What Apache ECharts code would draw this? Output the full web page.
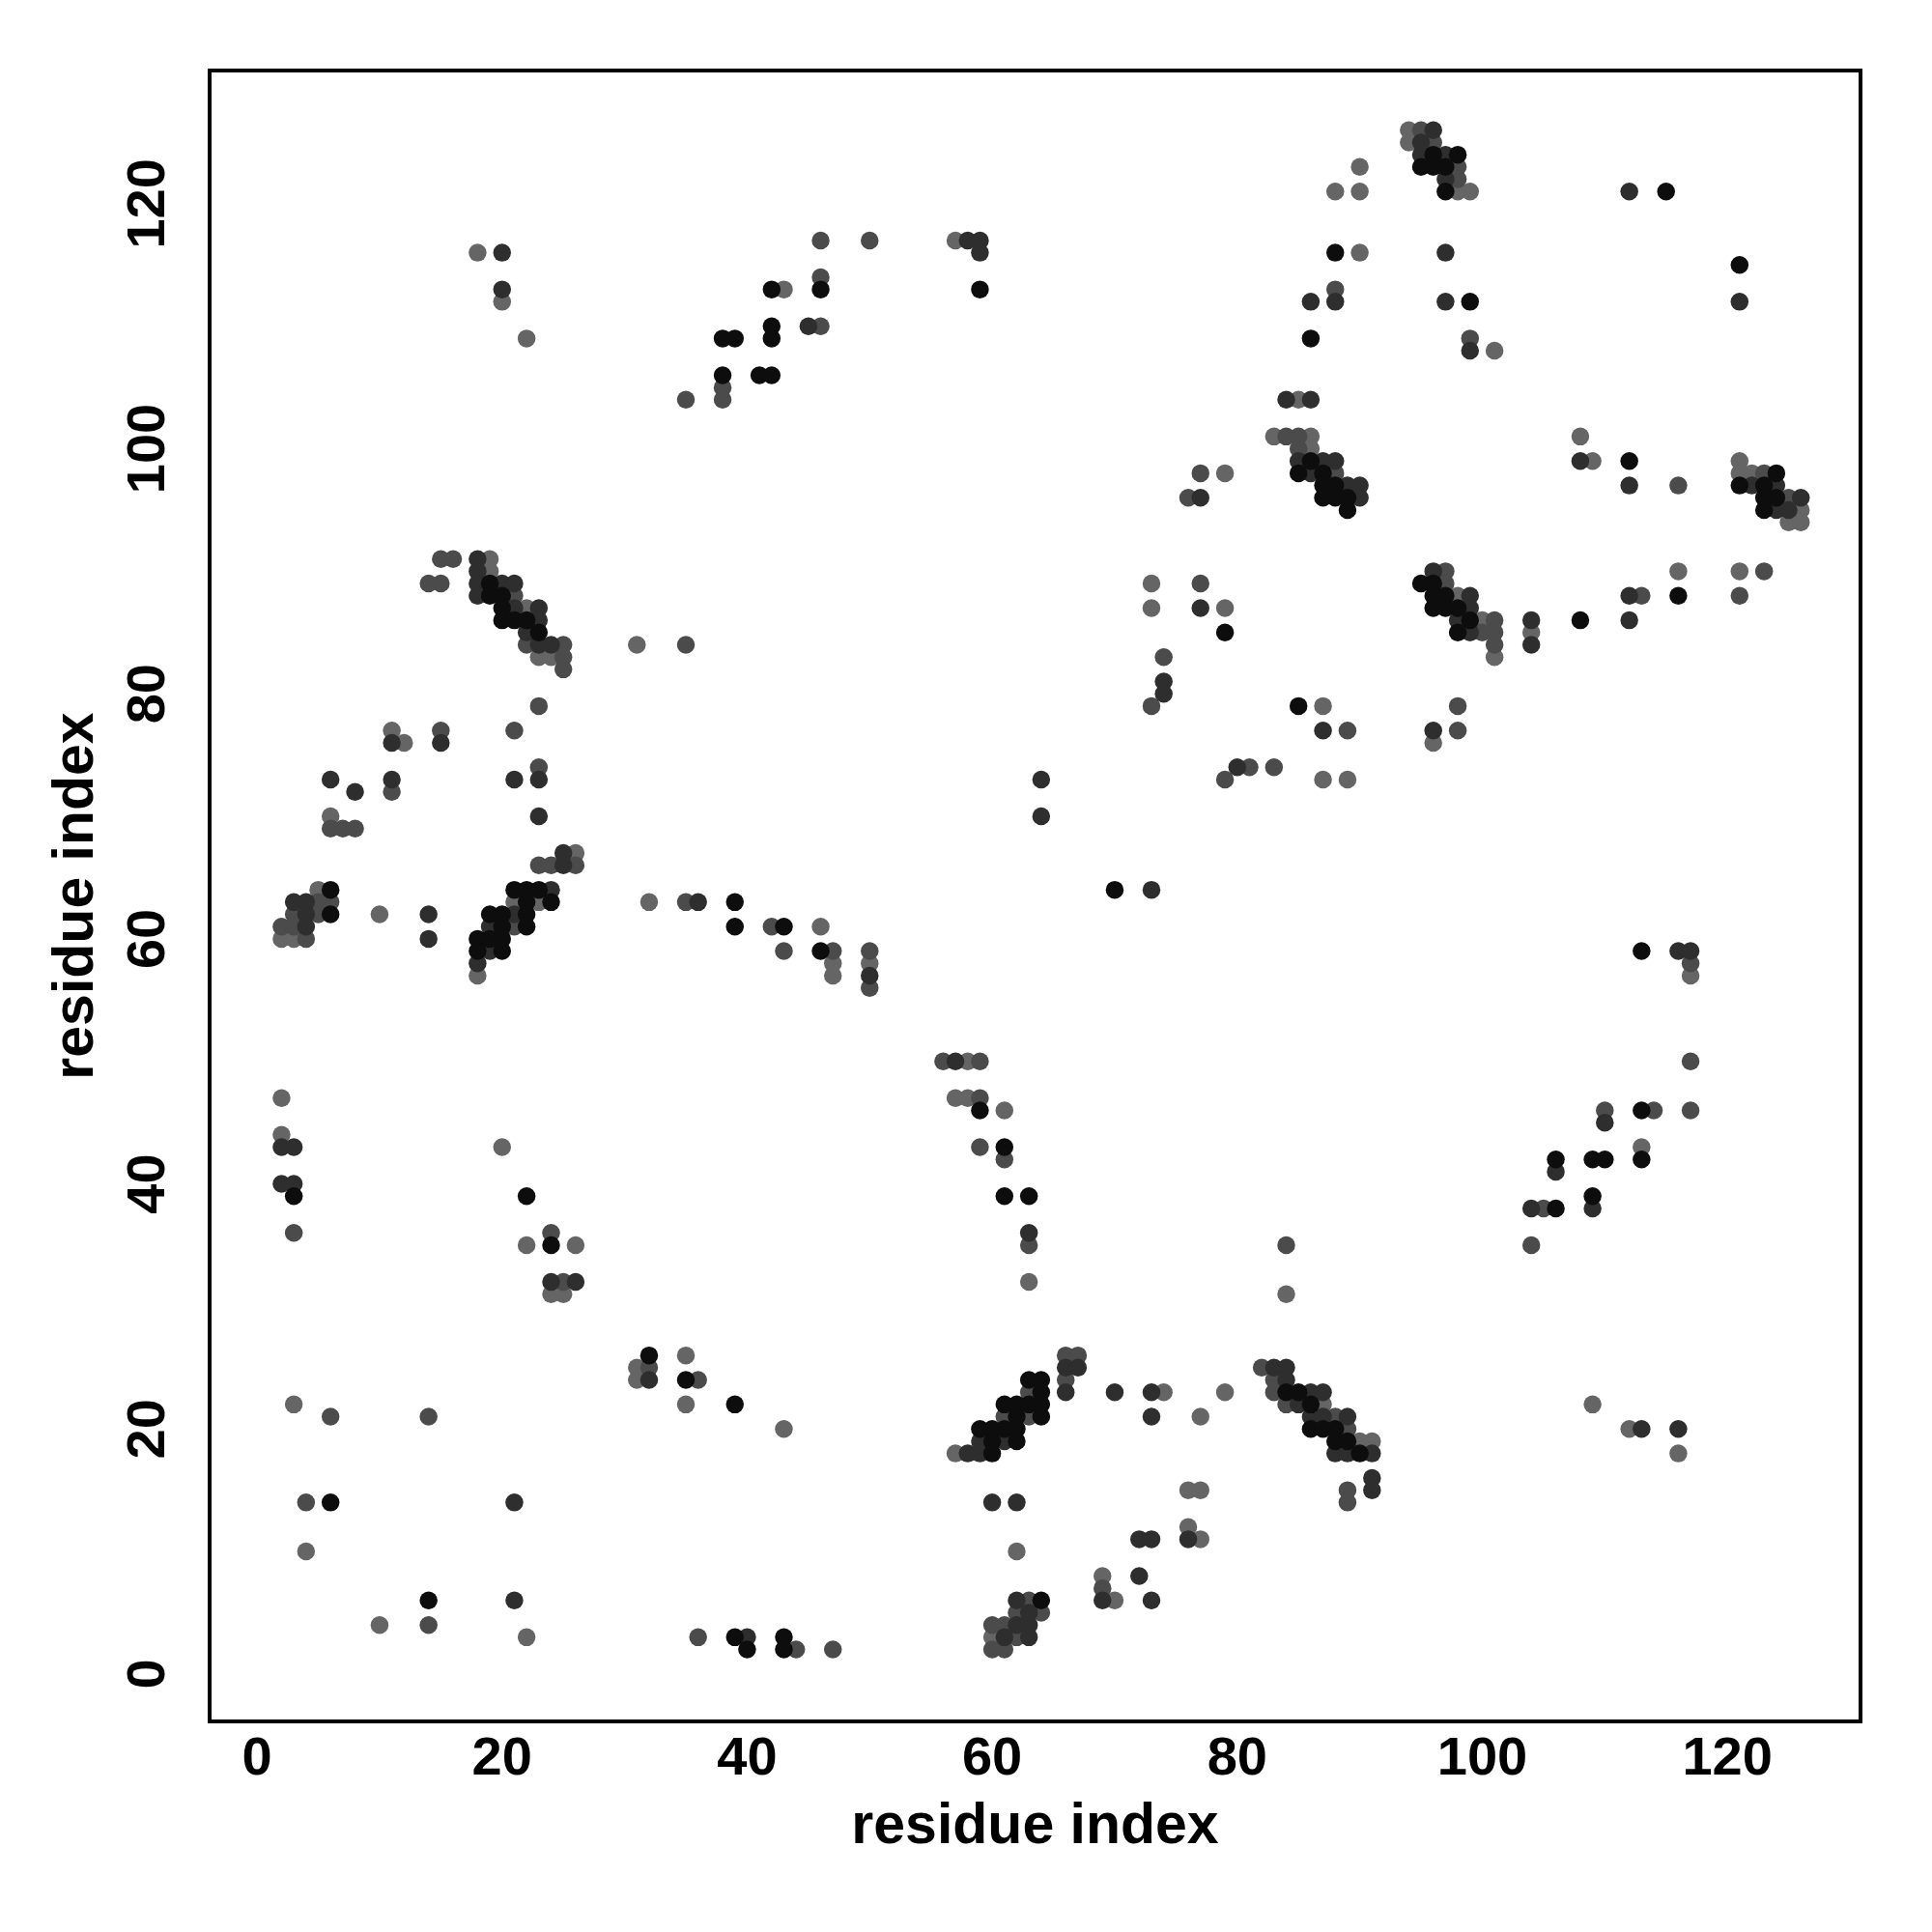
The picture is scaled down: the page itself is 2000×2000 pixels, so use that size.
<!DOCTYPE html>
<html>
<head>
<meta charset="utf-8">
<script src="https://cdn.jsdelivr.net/npm/echarts@6/dist/echarts.min.js"></script>
<style>
html,body{margin:0;padding:0;background:#fff;}
#chart{width:2000px;height:2000px;}
</style>
</head>
<body>
<div id="chart"></div>
<script>
// contact points [residue i, residue j], grouped by grey level
const lightPoints = [
[2,47],[2,44],[20,43],[22,35],[26,35],[24,31],[25,31],[3,22],[4,10],[10,4],[22,3],
[31,25],[31,24],[35,26],[35,22],[43,20],
[58,50],[57,47],[58,47],[61,46],[63,32],[57,18],[62,10],[60,3],[69,8],[70,6],
[87,22],[90,19],[91,19],
[85,104],[83,101],[86,101],[86,100],[98,88],[100,86],[101,83],
[94,126],[94,125],[98,121],[99,121],[101,108],
[121,99],[121,98],[122,98],[126,95],[125,94],[126,94],[121,90],
[57,117],[43,113],
[32,63],[46,61],[47,58],[50,58],[47,57],
[117,57],[113,43],[109,22],[112,20],[116,18],
[73,89],[73,87],[79,87],[87,79],[96,76],[87,73],[89,73],[104,85],
[19,91],[19,90],[22,87],[23,83],[24,83],
[26,67],[5,64],[21,63],[23,63],[10,62],[2,60],[3,60],[18,57],
[18,116],[20,112],[22,109],[6,70],[11,77],[12,76],[31,84],[74,23],[77,21],[79,23],
[76,15],[77,15],[76,12],[77,11],[84,31],[79,98],[88,121],[90,123],[90,121],[90,116],
[108,101],[109,99],[116,90]
];
const midPoints = [
[3,36],[24,36],[25,32],[6,21],[14,21],[4,14],[14,4],
[32,25],[36,24],[36,3],[44,2],[47,2],
[56,50],[59,50],[59,47],[59,43],[61,42],[63,35],[66,26],[67,26],[66,24],[63,23],[61,21],[63,21],
[63,6],[62,5],[64,5],[60,4],[61,4],[62,3],[60,2],[61,2],[69,7],
[82,25],[83,24],[83,23],[84,22],[88,21],[89,20],[89,15],[89,14],
[84,101],[85,101],[85,100],[88,98],[101,86],[100,85],[101,85],[101,84],[97,90],[97,89],
[95,126],[96,125],[98,123],[98,122],[99,109],
[123,98],[125,96],[123,90],[121,88],
[46,117],[50,117],[46,114],[46,110],[38,105],[35,104],[38,104],
[35,63],[42,61],[43,59],[47,59],[50,59],[50,56],
[117,58],[117,50],[110,46],[114,46],[117,46],[105,38],[104,35],
[77,89],[74,83],[73,79],[89,77],[81,74],[83,74],[79,73],[98,79],[98,77],
[15,91],[16,91],[15,89],[21,88],[22,84],[25,84],[25,83],[25,82],
[6,69],[7,69],[8,69],[23,66],[24,66],[26,66],[5,63],[6,63],[3,62],[5,62],[2,61],[3,61],[21,61],[4,60],
[14,89],[15,77],[21,77],[23,79],[23,74],[11,72],[35,84],[76,96],[77,98],[88,113],[116,97],[113,88],[84,35]
];
const darkPoints = [
[2,43],[3,43],[2,40],[3,40],[24,32],[26,32],[21,14],[21,6],
[32,24],[40,3],
[57,50],[61,19],[59,19],[58,18],[59,18],[60,14],[62,14],[63,36],[66,25],[67,25],[66,23],
[62,6],[63,5],[62,4],[63,4],[61,3],[63,3],
[83,25],[84,25],[84,24],[86,23],[87,23],[85,22],[86,21],[87,21],[89,21],[88,18],[89,18],[91,18],[91,16],[91,15],
[84,104],[86,104],[85,99],[87,99],[88,99],[86,98],[89,97],[90,97],[90,96],[96,90],[99,88],[99,87],[98,86],[99,85],
[96,126],[95,125],[95,124],[97,124],[97,122],[97,116],[97,112],[99,108],
[122,97],[124,97],[126,96],[124,95],[125,95],
[58,117],[59,117],[59,116],[45,110],
[36,63],[50,57],
[116,59],[117,59],[110,45],[106,41],[104,38],[109,38],[113,20],[116,20],
[77,87],[74,81],[74,80],[87,77],[80,74],[96,77],[104,86],[104,84],
[18,91],[18,90],[18,89],[20,89],[21,89],[18,88],[21,87],[23,87],[23,86],[22,85],[23,84],[24,84],
[25,67],[25,66],[3,63],[4,63],[24,64],[4,62],[14,62],[21,62],[4,61],[19,61],[14,60],[19,59],[18,58],
[20,116],[20,113],[6,73],[8,72],[11,76],[11,73],[15,76],[23,73],[21,73],[23,70],[64,73],[64,70],
[73,64],[70,23],[73,23],[73,21],[76,11],[72,11],[73,11],[72,8],[73,6],[69,6],[88,112],[86,112],
[112,121],[121,112],[108,99],[112,97],[112,88],[112,86],[77,96]
];
const blackPoints = [
[3,39],[22,39],[24,35],[6,14],[14,6],
[32,26],[35,24],[39,22],[39,3],[40,2],[43,3],[43,2],
[59,46],[61,43],[61,39],[63,39],[63,24],[64,24],[64,23],[61,22],[62,22],[63,22],[64,22],[62,21],[64,21],
[59,20],[60,20],[61,20],[62,20],[60,19],[62,19],[60,18],[64,6],
[84,23],[85,23],[86,22],[86,20],[87,20],[88,20],[88,19],[89,19],[90,18],
[86,99],[85,98],[87,98],[87,97],[88,97],[87,96],[88,96],[89,96],[89,95],
[95,89],[96,89],[96,88],[97,88],[96,87],[97,87],[98,87],[99,86],[98,85],
[96,124],[98,124],[95,123],[96,123],[97,123],[97,121],[99,112],
[124,98],[121,97],[123,97],[123,96],[124,96],[123,95],
[42,113],[46,113],[59,113],[42,110],[38,109],[39,109],[42,109],[38,106],[41,106],[42,106],
[39,63],[39,61],[43,61],[46,59],
[113,59],[113,46],[106,42],[109,42],[110,42],[113,42],[109,39],[106,38],
[79,85],[85,79],
[19,89],[19,88],[20,88],[20,87],[20,86],[21,86],[22,86],[23,85],
[6,64],[21,64],[22,64],[23,64],[22,63],[24,63],[6,62],[19,62],[20,62],[22,62],[20,61],[22,61],
[18,60],[19,60],[20,60],[18,59],[20,59],
[70,64],[86,109],[88,116],[115,121],[121,115],[112,99],[116,88],[108,86]
];
const tickValues = [0, 20, 40, 60, 80, 100, 120];
const axisTitle = 'residue index';

const chart = echarts.init(document.getElementById('chart'), null, {renderer: 'canvas'});
const labelFont = {fontFamily: 'Liberation Sans, Arial, Helvetica, sans-serif', fontWeight: 'bold', color: '#000'};
function mk(name, data, color) {
  return {name: name, type: 'scatter', data: data, symbol: 'circle', symbolSize: 18.5,
    itemStyle: {color: color, opacity: 1}, emphasis: {disabled: true}, animation: false};
}
chart.setOption({
  animation: false,
  backgroundColor: '#fff',
  grid: {left: 217, top: 73, width: 1709, height: 1709, show: true, borderColor: '#000', borderWidth: 4, backgroundColor: 'transparent'},
  xAxis: {
    type: 'value', min: -3.87, max: 130.87,
    name: axisTitle, nameLocation: 'middle', nameGap: 80,
    nameTextStyle: Object.assign({fontSize: 59}, labelFont),
    axisLine: {show: false}, splitLine: {show: false},
    axisTick: {show: false},
    axisLabel: Object.assign({customValues: tickValues, fontSize: 56, margin: 12}, labelFont)
  },
  yAxis: {
    type: 'value', min: -3.87, max: 130.87,
    name: axisTitle, nameLocation: 'middle', nameGap: 108,
    nameTextStyle: Object.assign({fontSize: 59}, labelFont),
    axisLine: {show: false}, splitLine: {show: false},
    axisTick: {show: false},
    axisLabel: Object.assign({customValues: tickValues, fontSize: 56, margin: 34, rotate: 90}, labelFont)
  },
  series: [
    mk('light', lightPoints, '#656565'),
    mk('mid', midPoints, '#4b4b4b'),
    mk('dark', darkPoints, '#2e2e2e'),
    mk('black', blackPoints, '#0d0d0d')
  ]
});
</script>
</body>
</html>
